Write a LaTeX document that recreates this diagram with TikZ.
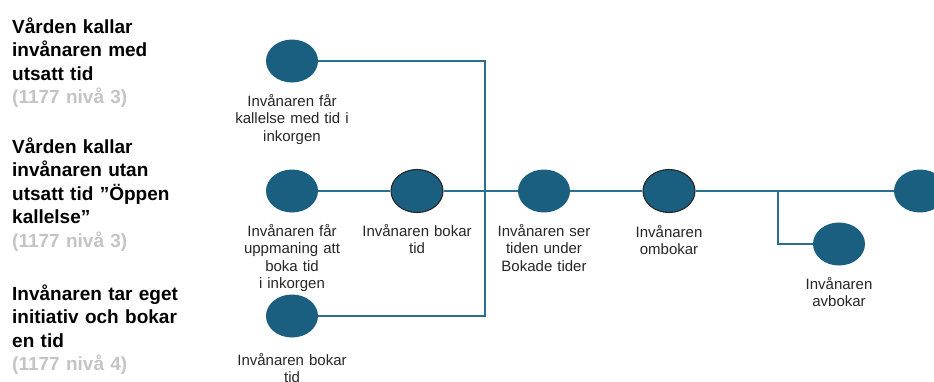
\documentclass[tikz,border=0pt]{standalone}
\usepackage{fontspec}
\setmainfont{Liberation Sans}
\usetikzlibrary{shapes.geometric}
\definecolor{dotblue}{HTML}{1A5E80}
\definecolor{lineblue}{HTML}{2A6F92}
\definecolor{lightgray}{HTML}{C4C4C4}
\definecolor{labeltext}{HTML}{262626}
\begin{document}
\begin{tikzpicture}[x=1pt,y=-1pt,
  dot/.style={shape=ellipse, fill=dotblue, minimum width=52pt, minimum height=43pt, inner sep=0pt},
  dotring/.style={dot, draw=black!85, line width=1.1pt},
  conn/.style={draw=lineblue, line width=1.6pt},
  lbl/.style={font=\fontsize{15}{17.5}\selectfont, text=labeltext, text width=130pt, align=center, inner sep=0pt, anchor=base},
  ttl/.style={font=\fontsize{19}{23.5}\selectfont\bfseries, text=black, text width=200pt, align=left, inner sep=0pt, anchor=base west},
  lvl/.style={text=lightgray}]
\useasboundingbox (0,0) rectangle (934,381);
\clip (0,0) rectangle (934,381);

% left titles
\node[ttl] (t1) at (12,33) {Vården kallar\\invånaren med\\utsatt tid\\\textcolor{lightgray}{(1177 nivå 3)}};
\node[ttl] (t2) at (12,153) {Vården kallar\\invånaren utan\\utsatt tid ”Öppen\\kallelse”\\\textcolor{lightgray}{(1177 nivå 3)}};
\node[ttl] (t3) at (12,300) {Invånaren tar eget\\initiativ och bokar\\en tid\\\textcolor{lightgray}{(1177 nivå 4)}};

% junction coordinates
\coordinate (jt) at (485,191);
\coordinate (jb) at (778,191);

% dots
\node[dot] (n1) at (292,61) {};
\node[dot] (n2) at (292,191) {};
\node[dotring] (n3) at (417,191) {};
\node[dot] (n5) at (292,316) {};
\node[dot] (n6) at (544,191) {};
\node[dotring] (n7) at (669,191) {};
\node[dot] (n8) at (839,244) {};
\node[dot] (n9) at (920,191) {};

% connectors
\begin{scope}[on background layer/.style={}]
\draw[conn] (n1) -| (jt);
\draw[conn] (n5) -| (jt);
\draw[conn] (n2) -- (n3);
\draw[conn] (n3) -- (n6);
\draw[conn] (n6) -- (n7);
\draw[conn] (n7) -- (n9);
\draw[conn] (jb) |- (n8);
\end{scope}

% labels
\node[lbl] (l1) at (292,106) {Invånaren får\\kallelse med tid i\\inkorgen};
\node[lbl] (l2) at (292,236) {Invånaren får\\uppmaning att\\boka tid\\i inkorgen};
\node[lbl] (l3) at (417,236) {Invånaren bokar\\tid};
\node[lbl] (l5) at (292,365) {Invånaren bokar\\tid};
\node[lbl] (l6) at (544,236) {Invånaren ser\\tiden under\\Bokade tider};
\node[lbl] (l7) at (669,237) {Invånaren\\ombokar};
\node[lbl] (l8) at (839,289) {Invånaren\\avbokar};
\end{tikzpicture}
\end{document}
